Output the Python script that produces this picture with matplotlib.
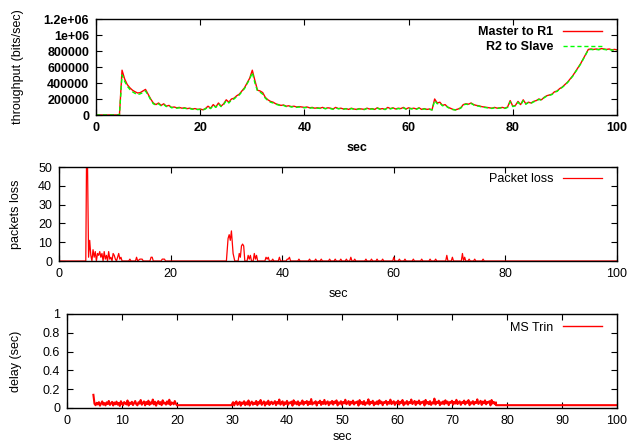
"""Throughput, packet loss and delay over time (gnuplot-style panels)."""

import matplotlib

matplotlib.use("Agg")
import matplotlib.pyplot as plt
import numpy as np
from matplotlib.lines import Line2D

plt.rcParams["font.family"] = ["Liberation Sans", "DejaVu Sans"]
plt.rcParams["font.size"] = 9

# --- throughput, kbit/s, sampled every 0.5 s from 0 to 100 s ---
thr_t = np.arange(0, 100.5, 0.5)
master_r1 = [
    0, 0, 0, 0, 0, 0, 0, 0, 0, 0,
    560, 450, 380, 340, 310, 290, 275, 280, 300, 320,
    260, 200, 150, 130, 150, 120, 140, 110, 120, 95,
    100, 90, 95, 85, 90, 80, 85, 75, 80, 70,
    75, 65, 80, 110, 85, 130, 100, 150, 110, 140,
    190, 160, 200, 210, 240, 260, 300, 340, 400, 460,
    560, 430, 310, 300, 280, 220, 190, 170, 160, 140,
    130, 120, 125, 110, 115, 105, 110, 100, 105, 100,
    95, 100, 90, 95, 85, 90, 85, 95, 80, 90,
    85, 75, 95, 80, 85, 75, 80, 70, 85, 75,
    70, 80, 75, 70, 85, 75, 80, 70, 90, 75,
    80, 70, 95, 80, 90, 75, 85, 80, 95, 75,
    90, 80, 85, 75, 90, 70, 80, 70, 75, 65,
    200, 150, 160, 120, 130, 100, 85, 70, 65, 75,
    90, 130, 140, 135, 150, 130, 120, 115, 105, 100,
    95, 90, 85, 95, 85, 90, 95, 85, 100, 180,
    110, 120, 170, 130, 190, 140, 160, 150, 170, 180,
    200, 190, 220, 240, 250, 260, 290, 300, 330, 350,
    380, 410, 450, 490, 540, 590, 640, 700, 760, 820,
    825, 820, 825, 820, 830, 825, 820, 825, 815, 820,
    815,
]
r2_slave = [
    0, 0, 0, 0, 0, 0, 0, 0, 0, 0,
    500, 420, 360, 320, 290, 270, 255, 265, 280, 300,
    250, 190, 140, 125, 140, 115, 130, 105, 115, 90,
    95, 85, 90, 80, 85, 78, 80, 72, 76, 68,
    70, 62, 75, 100, 80, 120, 95, 140, 105, 130,
    180, 150, 190, 200, 230, 250, 290, 330, 390, 450,
    530, 400, 300, 285, 260, 210, 180, 160, 150, 135,
    125, 115, 120, 105, 110, 100, 105, 95, 100, 95,
    90, 95, 85, 90, 80, 85, 82, 90, 78, 85,
    80, 72, 90, 78, 80, 72, 78, 68, 80, 72,
    68, 76, 72, 68, 80, 72, 76, 68, 85, 72,
    76, 68, 90, 76, 85, 72, 80, 76, 90, 72,
    85, 76, 80, 72, 85, 68, 76, 68, 72, 62,
    180, 140, 150, 115, 125, 95, 80, 68, 62, 72,
    85, 125, 135, 130, 145, 125, 115, 110, 100, 95,
    90, 86, 82, 90, 82, 86, 90, 82, 95, 165,
    105, 115, 160, 125, 180, 135, 155, 145, 165, 175,
    195, 185, 215, 235, 245, 255, 285, 295, 325, 345,
    375, 405, 445, 485, 535, 585, 635, 695, 755, 815,
    820, 815, 820, 815, 825, 820, 815, 820, 810, 815,
    810,
]

# --- packet loss: (time, count) points, zero elsewhere ---
loss_pts = [
    (0, 0), (4.8, 0), (5.0, 80), (5.3, 2), (5.5, 11), (5.7, 3), (5.9, 0),
    (6.1, 6), (6.3, 2), (6.5, 5), (6.7, 0), (6.9, 4), (7.1, 3), (7.3, 5),
    (7.5, 2), (7.7, 4), (7.9, 0), (8.1, 5), (8.3, 1), (8.5, 3), (8.7, 0),
    (8.9, 5), (9.1, 1), (9.3, 2), (9.5, 0), (9.7, 4), (9.9, 3), (10.1, 1),
    (10.3, 0), (10.7, 4), (10.9, 1), (11.1, 2), (11.3, 0), (12.5, 0),
    (12.7, 1), (12.9, 0), (13.7, 0), (13.9, 2), (14.1, 0), (14.5, 1),
    (14.9, 1), (15.1, 0), (16.3, 0), (16.5, 2), (16.7, 2), (16.9, 0),
    (18.3, 0), (18.5, 1), (18.9, 1), (19.1, 0),
    (30.0, 0), (30.3, 12), (30.5, 14), (30.7, 11), (30.9, 16), (31.2, 4),
    (31.5, 0), (32.1, 0), (32.3, 4), (32.5, 2), (32.7, 8), (32.9, 9),
    (33.1, 8), (33.3, 0), (33.7, 0), (33.9, 3), (34.1, 1), (34.3, 3),
    (34.5, 0), (34.8, 0), (35.0, 4), (35.2, 1), (35.4, 3), (35.6, 0),
    (36.9, 0), (37.1, 2), (37.3, 1), (37.5, 2), (37.7, 0), (38.1, 0),
    (38.3, 1), (38.5, 0), (39.3, 0), (39.5, 2), (39.7, 0), (40.7, 0),
    (40.9, 1), (41.1, 1), (41.3, 2), (41.5, 0), (42.8, 0), (43.0, 1),
    (43.2, 0), (44.7, 0), (44.9, 1), (45.1, 0),
]
loss_bumps = [
    (46.0, 1), (47.0, 1), (48.5, 1), (49.5, 1), (50.5, 1), (51.5, 1),
    (52.3, 2), (53.0, 1), (55.0, 1), (56.0, 1), (57.0, 1), (58.0, 1),
    (60.0, 2), (61.0, 1), (62.0, 1), (63.5, 1), (65.0, 1), (66.5, 1),
    (67.5, 1), (69.5, 3), (70.5, 2), (72.3, 4), (72.7, 2), (73.5, 1),
    (74.5, 1), (76.0, 1),
]

# --- delay in ms: noisy segments sampled every 0.2 s ---
delay_start = (4.8, 140)
delay_seg1 = [
    45, 30, 55, 38, 62, 25, 48, 70, 35, 52,
    28, 60, 42, 75, 33, 50, 65, 27, 58, 40,
    68, 36, 54, 22, 72, 45, 30, 63, 49, 38,
    80, 26, 57, 44, 66, 31, 53, 74, 40, 29,
    61, 47, 85, 35, 56, 70, 28, 64, 42, 78,
    33, 59, 46, 90, 38, 67, 25, 55, 73, 41,
    62, 30, 82, 48, 57, 36, 70, 44, 88, 32,
    60, 51, 39, 74, 45, 28,
]  # 5.0 .. 20.0 s
delay_seg2 = [
    40, 62, 28, 55, 70, 33, 48, 66, 25, 58,
    45, 72, 30, 60, 38, 80, 27, 52, 68, 35,
    57, 42, 75, 29, 63, 48, 85, 34, 55, 70,
    26, 61, 44, 78, 32, 58, 67, 40, 52, 73,
    30, 64, 47, 90, 36, 56, 71, 28, 60, 43,
    76, 34, 59, 50, 68, 25, 82, 45, 62, 38,
    71, 29, 57, 46, 80, 35, 63, 52, 74, 31,
    66, 42, 95, 37, 58, 49, 72, 27, 61, 54,
    78, 33, 65, 44, 86, 39, 57, 70, 30, 62,
    47, 75, 36, 68, 53, 81, 28, 59, 45, 72,
    34, 64, 50, 88, 40, 57, 73, 31, 66, 48,
    79, 37, 61, 55, 70, 26, 84, 46, 63, 39,
    74, 32, 58, 49, 92, 36, 65, 53, 77, 29,
    60, 44, 71, 38, 83, 51, 67, 30, 62, 56,
    76, 35, 64, 47, 89, 41, 58, 72, 33, 61,
    50, 78, 37, 66, 54, 85, 29, 60, 46, 74,
    36, 63, 52, 90, 42, 58, 75, 32, 67, 49,
    80, 38, 62, 56, 71, 27, 86, 47, 64, 40,
    73, 33, 59, 48, 100, 37, 66, 54, 78, 30,
    61, 45, 70, 39, 82, 50, 68, 31, 63, 57,
    77, 36, 65, 48, 87, 42, 59, 71, 34, 62,
    51, 79, 38, 67, 55, 84, 30, 61, 47, 73,
    37, 64, 53, 92, 43, 59, 76, 33, 68, 50,
    81, 39, 63, 57, 72, 28, 85, 48, 65, 41,
    60,
]  # 30.0 .. 78.0 s
delay_idle = 30  # flat level between bursts


def build_loss():
    pts = list(loss_pts)
    for t, v in loss_bumps:
        pts += [(t - 0.2, 0), (t, v), (t + 0.2, 0)]
    pts.append((100, 0))
    t, v = zip(*pts)
    return np.array(t), np.array(v)


def build_delay():
    t1 = 5.0 + 0.2 * np.arange(len(delay_seg1))
    t2 = 30.0 + 0.2 * np.arange(len(delay_seg2))
    end1, end2 = t1[-1], t2[-1]
    t = np.concatenate([[delay_start[0]], t1, [end1, 30.0], t2, [end2, 100.0]])
    v = np.concatenate([[delay_start[1]], delay_seg1, [delay_idle] * 2,
                        delay_seg2, [delay_idle] * 2])
    return t, v / 1000.0


def style(ax, bold=False):
    ax.tick_params(direction="in", top=True, right=True, length=4, width=0.8, pad=5)
    for s in ax.spines.values():
        s.set_linewidth(1.0)
    if bold:
        for lab in ax.get_xticklabels() + ax.get_yticklabels():
            lab.set_fontweight("bold")


def key(ax, anchor, handles=None, **kw):
    if handles is not None:
        kw["handles"] = handles
    return ax.legend(loc="upper right", bbox_to_anchor=anchor, frameon=False,
                     markerfirst=False, handlelength=3.1, handletextpad=0.8,
                     borderaxespad=0, borderpad=0, labelspacing=0.25, **kw)


fig = plt.figure(figsize=(6.29, 4.43), dpi=100)
W, H = 629, 443


def add_axes(l, r, t, b):
    return fig.add_axes([l / W, 1 - b / H, (r - l) / W, (b - t) / H])


# throughput
ax1 = add_axes(96, 617, 19, 115)
ax1.plot(thr_t, np.array(master_r1) * 1000, color="#ff0000", lw=1.0, label="Master to R1")
ax1.plot(thr_t, np.array(r2_slave) * 1000, color="#00ff00", lw=1.0, ls=(0, (3, 2)),
         label="R2 to Slave")
ax1.set_xlim(0, 100)
ax1.set_ylim(0, 1.2e6)
ax1.set_xticks(range(0, 101, 20))
ax1.set_yticks(np.arange(0, 1.21e6, 2e5))
ax1.set_yticklabels(["0", "200000", "400000", "600000", "800000", "1e+06", "1.2e+06"])
ax1.set_xlabel("sec", fontweight="bold", labelpad=6)
ax1.set_ylabel("throughput (bits/sec)")
ax1.yaxis.set_label_coords((24 - 96) / 521, 0.5)
key(ax1, (0.971, 0.925), prop={"weight": "bold"})
style(ax1, bold=True)

# packet loss
lt, lv = build_loss()
ax2 = add_axes(59, 617, 167, 261)
ax2.plot(lt, lv, color="#ff0000", lw=0.9, label="Packet loss")
ax2.set_xlim(0, 100)
ax2.set_ylim(0, 50)
ax2.set_xticks(range(0, 101, 20))
ax2.set_yticks(range(0, 51, 10))
ax2.set_xlabel("sec", labelpad=6)
ax2.set_ylabel("packets loss")
ax2.yaxis.set_label_coords((22 - 59) / 558, 0.5)
key(ax2, (0.973, 0.935))
style(ax2)

# delay
dt, dv = build_delay()
ax3 = add_axes(67, 617, 314, 408)
ax3.plot(dt, dv, color="#ff0000", lw=1.5)
ax3.set_xlim(0, 100)
ax3.set_ylim(0, 1)
ax3.set_xticks(range(0, 101, 10))
ax3.set_yticks(np.arange(0, 1.01, 0.2))
ax3.set_yticklabels(["0", "0.2", "0.4", "0.6", "0.8", "1"])
ax3.set_xlabel("sec", labelpad=3)
ax3.set_ylabel("delay (sec)")
ax3.yaxis.set_label_coords((22 - 67) / 550, 0.5)
key(ax3, (0.973, 0.92), handles=[Line2D([], [], color="#ff0000", lw=1.0, label="MS Trin")])
style(ax3)

fig.savefig("out.png", dpi=100)
